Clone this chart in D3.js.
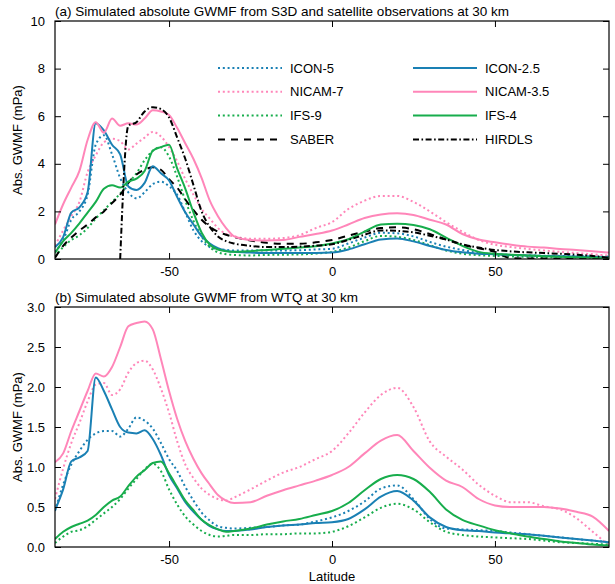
<!DOCTYPE html>
<html><head><meta charset="utf-8">
<script src="https://cdn.jsdelivr.net/npm/d3@7"></script>
<style>body{margin:0;background:#fff}text{font-family:"Liberation Sans",Arial,sans-serif;fill:#000}</style>
</head><body><svg id="c" width="615" height="584"></svg>
<script>
const lat = [-85,-82.5,-80,-77.5,-75,-72.5,-70,-67.5,-65,-62.5,-60,-57.5,-55,-52.5,-50,-47.5,-45,-42.5,-40,-37.5,-35,-32.5,-30,
  -25,-20,-15,-10,-5,0,5,10,15,20,25,30,35,40,45,50,55,60,65,70,75,80,85];

// Panel (a): S3D and satellite observations
const icon25A = [0.5,0.92,1.95,2.17,2.8,5.7,5.4,4.8,4.4,3.05,2.9,3.2,3.9,3.6,3.3,2.6,1.95,1.45,0.95,0.65,0.45,0.35,0.3,
  0.27,0.25,0.25,0.25,0.25,0.27,0.4,0.62,0.82,0.86,0.74,0.55,0.38,0.28,0.22,0.2,0.17,0.15,0.13,0.12,0.1,0.08,0.07];
const icon5A = [0.3,0.78,1.65,2.0,2.7,4.8,5.2,4.4,3.4,2.8,2.55,2.8,3.15,3.25,3.05,2.7,1.95,1.2,0.75,0.5,0.42,0.38,0.36,
  0.36,0.36,0.36,0.37,0.4,0.43,0.65,0.9,1.1,1.08,0.95,0.72,0.52,0.38,0.25,0.2,0.17,0.15,0.14,0.13,0.12,0.11,0.1];
const nicam35A = [1.45,2.3,3.0,3.7,5.0,5.75,5.3,5.9,5.6,5.7,5.65,5.9,6.25,6.2,6.05,5.5,4.85,4.2,3.4,2.45,1.8,1.3,0.95,
  0.8,0.78,0.8,0.93,1.05,1.2,1.45,1.72,1.87,1.92,1.85,1.65,1.45,1.05,0.82,0.7,0.6,0.52,0.48,0.42,0.38,0.33,0.27];
const nicam7A = [0.57,1.2,1.8,2.4,3.65,4.35,4.9,5.05,4.95,4.6,4.85,5.1,5.34,5.15,4.7,4.1,3.35,2.7,2.1,1.7,1.3,1.05,0.95,
  0.85,0.85,0.88,1.0,1.3,1.55,2.1,2.45,2.65,2.65,2.4,2.0,1.55,1.15,0.8,0.6,0.5,0.42,0.36,0.3,0.25,0.2,0.14];
const ifs4A = [0.25,0.75,1.1,1.5,1.95,2.4,2.95,3.1,3.0,3.25,3.38,3.7,4.55,4.7,4.8,3.8,2.95,1.95,1.1,0.6,0.4,0.33,0.3,
  0.33,0.38,0.43,0.48,0.54,0.65,0.83,1.15,1.45,1.48,1.43,1.25,0.9,0.55,0.3,0.22,0.18,0.15,0.12,0.09,0.07,0.06,0.05];
const ifs9A = [0.1,0.5,0.8,1.0,1.3,1.7,2.05,2.4,2.75,3.2,3.6,4.15,4.55,4.7,4.3,3.45,2.45,1.6,0.95,0.5,0.28,0.2,0.17,
  0.15,0.17,0.18,0.19,0.23,0.3,0.48,0.75,0.97,0.93,0.8,0.58,0.36,0.22,0.16,0.13,0.11,0.09,0.08,0.07,0.06,0.05,0.04];
const saberA = [0.05,0.55,0.9,1.2,1.45,1.75,2.0,2.35,2.7,3.2,3.55,3.75,3.85,3.75,3.35,3.0,2.5,2.05,1.65,1.35,1.15,1.02,0.92,
  0.78,0.68,0.64,0.64,0.7,0.8,0.98,1.15,1.3,1.33,1.25,1.05,0.82,0.6,0.45,0.3,0.03,0.02,0.02,0.02,0.02,0.02,0.02];
const hirdlsA = [null,null,null,null,null,null,null,null,0.0,5.6,5.75,6.2,6.38,6.3,5.95,5.1,4.2,3.1,2.0,1.35,0.95,0.75,0.65,
  0.55,0.5,0.5,0.52,0.56,0.62,0.8,1.02,1.2,1.18,1.12,0.98,0.82,0.62,0.48,0.38,0.32,0.28,0.25,0.22,0.18,0.13,0.05];

// Panel (b): WTQ
const icon25B = [0.46,0.72,1.07,1.12,1.2,2.12,1.95,1.72,1.5,1.43,1.42,1.46,1.35,1.15,0.9,0.73,0.56,0.44,0.34,0.26,0.22,0.2,0.2,
  0.22,0.25,0.27,0.28,0.3,0.31,0.35,0.47,0.63,0.7,0.58,0.37,0.25,0.21,0.2,0.18,0.17,0.16,0.14,0.12,0.1,0.08,0.06];
const icon5B = [0.45,0.78,1.03,1.2,1.34,1.42,1.45,1.45,1.38,1.48,1.62,1.58,1.48,1.3,1.1,0.95,0.75,0.58,0.43,0.33,0.26,0.24,0.23,
  0.24,0.25,0.27,0.28,0.32,0.37,0.45,0.57,0.73,0.77,0.6,0.35,0.23,0.22,0.21,0.2,0.18,0.16,0.14,0.12,0.1,0.08,0.06];
const nicam35B = [1.06,1.17,1.45,1.7,1.95,2.17,2.13,2.25,2.5,2.76,2.8,2.82,2.72,2.35,1.95,1.6,1.32,1.1,0.92,0.78,0.65,0.58,0.55,
  0.56,0.64,0.71,0.77,0.83,0.9,1.0,1.17,1.33,1.4,1.2,0.99,0.83,0.75,0.6,0.52,0.5,0.5,0.5,0.48,0.44,0.38,0.2];
const nicam7B = [0.6,0.98,1.3,1.55,1.82,2.03,2.05,1.9,1.97,2.18,2.3,2.33,2.22,1.98,1.68,1.32,1.03,0.86,0.73,0.65,0.6,0.58,0.62,
  0.72,0.83,0.93,1.0,1.1,1.2,1.42,1.68,1.9,1.99,1.75,1.32,1.13,0.97,0.78,0.64,0.56,0.56,0.51,0.47,0.36,0.19,0.02];
const ifs4B = [0.1,0.19,0.25,0.29,0.33,0.4,0.5,0.58,0.63,0.76,0.88,0.96,1.05,1.07,0.92,0.75,0.58,0.46,0.34,0.27,0.22,0.19,0.2,
  0.23,0.28,0.32,0.35,0.4,0.45,0.55,0.71,0.85,0.9,0.85,0.69,0.47,0.34,0.27,0.21,0.17,0.13,0.1,0.07,0.05,0.03,0.02];
const ifs9B = [0.05,0.13,0.19,0.21,0.26,0.34,0.42,0.5,0.6,0.73,0.85,0.97,1.04,0.95,0.72,0.53,0.38,0.28,0.2,0.15,0.13,0.14,0.15,
  0.15,0.16,0.16,0.17,0.17,0.19,0.26,0.37,0.49,0.54,0.47,0.31,0.19,0.15,0.13,0.12,0.11,0.1,0.08,0.06,0.05,0.04,0.03];

const xTicks = [-50,0,50];
const xTickLabels = ["-50","0","50"];
const yTicksA = [0,2,4,6,8,10];
const yTicksB = [0,0.5,1.0,1.5,2.0,2.5,3.0];

const BLUE="#1a80b4", PINK="#ff86b9", GREEN="#17ad4c";
const DOT="2,2.8", DASH="7,6", DASHDOT="6,2.5,1.6,2.5";

const seriesA = [
  {name:"ICON-5", v:icon5A, c:BLUE, d:DOT},
  {name:"NICAM-7", v:nicam7A, c:PINK, d:DOT},
  {name:"IFS-9", v:ifs9A, c:GREEN, d:DOT},
  {name:"SABER", v:saberA, c:"#000", d:DASH},
  {name:"ICON-2.5", v:icon25A, c:BLUE, d:null},
  {name:"NICAM-3.5", v:nicam35A, c:PINK, d:null},
  {name:"IFS-4", v:ifs4A, c:GREEN, d:null},
  {name:"HIRDLS", v:hirdlsA, c:"#000", d:DASHDOT}
];
const seriesB = [
  {name:"ICON-5", v:icon5B, c:BLUE, d:DOT},
  {name:"NICAM-7", v:nicam7B, c:PINK, d:DOT},
  {name:"IFS-9", v:ifs9B, c:GREEN, d:DOT},
  {name:"ICON-2.5", v:icon25B, c:BLUE, d:null},
  {name:"NICAM-3.5", v:nicam35B, c:PINK, d:null},
  {name:"IFS-4", v:ifs4B, c:GREEN, d:null}
];

const svg = d3.select("#c");
const X0=55, X1=609;
const x = d3.scaleLinear().domain([-85,85]).range([X0,X1]);

function panel(id, top, bottom, ymax, yTicks, fmt, series, title){
  const y = d3.scaleLinear().domain([0,ymax]).range([bottom,top]);
  const g = svg.append("g");
  g.append("clipPath").attr("id","clip"+id).append("rect")
    .attr("x",X0).attr("y",top).attr("width",X1-X0).attr("height",bottom-top);
  const line = d3.line().defined(d=>d[1]!==null).x(d=>x(d[0])).y(d=>y(d[1])).curve(d3.curveMonotoneX);
  const lg = g.append("g").attr("clip-path","url(#clip"+id+")");
  series.forEach(s=>{
    lg.append("path").datum(lat.map((l,i)=>[l,s.v[i]]))
      .attr("d",line).attr("fill","none").attr("stroke",s.c)
      .attr("stroke-width",2).attr("stroke-dasharray",s.d)
      .attr("stroke-linejoin","round");
  });
  const tl=6;
  const ax = [
    d3.axisBottom(x).tickValues(xTicks).tickSizeInner(-tl).tickSizeOuter(0).tickPadding(tl+2)
      .tickFormat((d,i)=>xTickLabels[i]),
    d3.axisTop(x).tickValues(xTicks).tickSizeInner(-tl).tickSizeOuter(0).tickFormat(""),
    d3.axisLeft(y).tickValues(yTicks).tickSizeInner(-tl).tickSizeOuter(0).tickPadding(tl+4).tickFormat(fmt),
    d3.axisRight(y).tickValues(yTicks).tickSizeInner(-tl).tickSizeOuter(0).tickFormat("")
  ];
  const pos = [[0,bottom],[0,top],[X0,0],[X1,0]];
  ax.forEach((a,i)=>{
    const ag = g.append("g").attr("transform",`translate(${pos[i][0]},${pos[i][1]})`).call(a);
    ag.select(".domain").remove();
    ag.selectAll("line").attr("stroke","#000");
    ag.selectAll("text").style("font-size","13px").style("font-family","Liberation Sans, Arial, sans-serif");
  });
  g.append("rect").attr("x",X0).attr("y",top).attr("width",X1-X0).attr("height",bottom-top)
    .attr("fill","none").attr("stroke","#000").attr("stroke-width",1.2);
  g.append("text").attr("x",X0).attr("y",top-5).style("font-size","13.5px").text(title);
  g.append("text").attr("transform",`translate(22,${(top+bottom)/2}) rotate(-90)`)
    .attr("text-anchor","middle").style("font-size","13px").text("Abs. GWMF (mPa)");
  return y;
}

panel("a",21,259,10,yTicksA,d3.format("d"),seriesA,"(a) Simulated absolute GWMF from S3D and satellite observations at 30 km");
panel("b",307,547,3,yTicksB,d3.format(".1f"),seriesB,"(b) Simulated absolute GWMF from WTQ at 30 km");

svg.append("text").attr("x",x(0)).attr("y",581).attr("text-anchor","middle").style("font-size","13px").text("Latitude");

const legOrder = ["ICON-5","ICON-2.5","NICAM-7","NICAM-3.5","IFS-9","IFS-4","SABER","HIRDLS"];
const leg = svg.append("g");
legOrder.forEach((n,i)=>{
  const s = seriesA.find(d=>d.name===n);
  const col = i%2, row = Math.floor(i/2);
  const lx = col===0 ? 218 : 413, ly = 68 + row*23.8;
  leg.append("line").attr("x1",lx).attr("x2",lx+64).attr("y1",ly).attr("y2",ly)
    .attr("stroke",s.c).attr("stroke-width",2).attr("stroke-dasharray",s.d);
  leg.append("text").attr("x",lx+72).attr("y",ly+4.5).style("font-size","13px").text(n);
});
</script></body></html>
